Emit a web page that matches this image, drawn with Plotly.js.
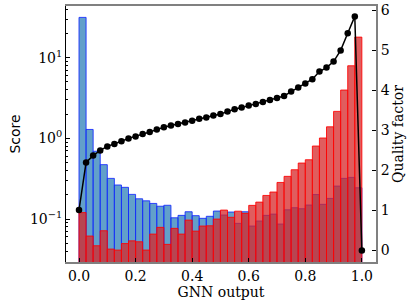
<!DOCTYPE html>
<html>
<head>
<meta charset="utf-8">
<script src="https://cdn.plot.ly/plotly-3.0.1.min.js"></script>
<style>html,body{margin:0;padding:0;background:#fff}#chart{width:413px;height:305px}</style>
</head>
<body>
<div id="chart"></div>
<script>
// 40 bins on [0, 1]
const nBins = 40;
const binWidth = 1 / nBins;
const binCenters = Array.from({length: nBins}, (_, i) => (i + 0.5) * binWidth);
const binEdges = Array.from({length: nBins + 1}, (_, i) => i * binWidth);

// Background (blue) score per bin
const background = [31.6, 1.29, 0.692, 0.472, 0.319, 0.264, 0.247, 0.202, 0.178, 0.168,
  0.156, 0.144, 0.148, 0.1035, 0.111, 0.123, 0.110, 0.102, 0.108, 0.1255,
  0.112, 0.122, 0.0883, 0.123, 0.0818, 0.0944, 0.111, 0.115, 0.0866, 0.130,
  0.138, 0.134, 0.149, 0.201, 0.152, 0.180, 0.256, 0.319, 0.328, 0.244];

// Signal (red) score per bin
const signal = [0.120, 0.0615, 0.0466, 0.0715, 0.0424, 0.0412, 0.0496, 0.0536, 0.0522, 0.0412,
  0.065, 0.0788, 0.0485, 0.0766, 0.065, 0.097, 0.0708, 0.0818, 0.0824, 0.0998,
  0.129, 0.105, 0.125, 0.1175, 0.1476, 0.162, 0.196, 0.216, 0.284, 0.338,
  0.408, 0.494, 0.543, 0.803, 1.01, 1.39, 2.16, 3.97, 7.94, 18.0];

// Quality factor at each bin edge
const quality = [1.01, 2.20, 2.37, 2.50, 2.60, 2.66, 2.73, 2.80, 2.85, 2.91,
  2.96, 3.02, 3.08, 3.12, 3.16, 3.20, 3.24, 3.29, 3.32, 3.37,
  3.41, 3.47, 3.53, 3.57, 3.62, 3.66, 3.71, 3.76, 3.81, 3.86,
  3.97, 4.07, 4.17, 4.28, 4.47, 4.57, 4.72, 5.00, 5.43, 5.85, 0.0];

const xTickVals = [0, 0.2, 0.4, 0.6, 0.8, 1.0];
const xTickText = ['0.0', '0.2', '0.4', '0.6', '0.8', '1.0'];
const yTickVals = [0.1, 1, 10];
const yTickText = ['10<sup>−1</sup>', '10<sup>0</sup>', '10<sup>1</sup>'];
const yMinorVals = [0.03, 0.04, 0.05, 0.06, 0.07, 0.08, 0.09, 0.2, 0.3, 0.4, 0.5, 0.6, 0.7, 0.8, 0.9,
  2, 3, 4, 5, 6, 7, 8, 9, 20, 30, 40];
const y2TickVals = [0, 1, 2, 3, 4, 5, 6];

const serif = 'DejaVu Serif, serif';
const sans = 'DejaVu Sans, sans-serif';

const traces = [
  {
    type: 'bar', x: binCenters, y: background, width: binWidth,
    marker: {color: 'rgba(31,119,180,0.7)', line: {color: 'rgba(20,40,255,0.85)', width: 1}},
    hoverinfo: 'skip', showlegend: false
  },
  {
    type: 'bar', x: binCenters, y: signal, width: binWidth,
    marker: {color: 'rgba(214,39,40,0.75)', line: {color: 'rgba(255,0,0,0.85)', width: 1}},
    hoverinfo: 'skip', showlegend: false
  },
  {
    type: 'scatter', mode: 'lines+markers', x: binEdges, y: quality, yaxis: 'y2',
    line: {color: '#000', width: 1.5},
    marker: {color: '#000', size: 6.5},
    hoverinfo: 'skip', showlegend: false
  }
];

const layout = {
  width: 413, height: 305,
  margin: {l: 66, r: 37, t: 6, b: 43},
  paper_bgcolor: '#fff', plot_bgcolor: '#fff',
  barmode: 'overlay', bargap: 0,
  xaxis: {
    range: [-0.046, 1.05], showgrid: false, zeroline: false,
    tickmode: 'array', tickvals: xTickVals, ticktext: xTickText,
    ticks: 'inside', ticklen: 4, tickwidth: 1, tickcolor: '#000',
    showline: true, linecolor: '#808080', linewidth: 2, mirror: true,
    tickfont: {family: serif, size: 14, color: '#000'},
    title: {text: 'GNN output', font: {family: serif, size: 14, color: '#000'}, standoff: 4}
  },
  yaxis: {
    type: 'log', range: [-1.533, 1.641], showgrid: false, zeroline: false,
    tickmode: 'array', tickvals: yTickVals, ticktext: yTickText,
    ticks: 'inside', ticklen: 4, tickwidth: 1, tickcolor: '#000',
    minor: {tickmode: 'array', tickvals: yMinorVals, ticks: 'inside', ticklen: 2, tickwidth: 1, tickcolor: '#000'},
    showline: true, linecolor: '#000', linewidth: 1,
    tickfont: {family: serif, size: 14, color: '#000'},
    title: {text: 'Score', font: {family: sans, size: 14, color: '#000'}, standoff: 6}
  },
  yaxis2: {
    overlaying: 'y', side: 'right', range: [-0.29, 6.11], showgrid: false, zeroline: false,
    tickmode: 'array', tickvals: y2TickVals,
    ticks: 'inside', ticklen: 4, tickwidth: 1, tickcolor: '#000',
    showline: true, linecolor: '#808080', linewidth: 2,
    tickfont: {family: serif, size: 14, color: '#000'},
    title: {text: 'Quality factor', font: {family: serif, size: 14, color: '#000'}, standoff: 4}
  }
};

Plotly.newPlot('chart', traces, layout, {displayModeBar: false, staticPlot: true});
</script>
</body>
</html>
